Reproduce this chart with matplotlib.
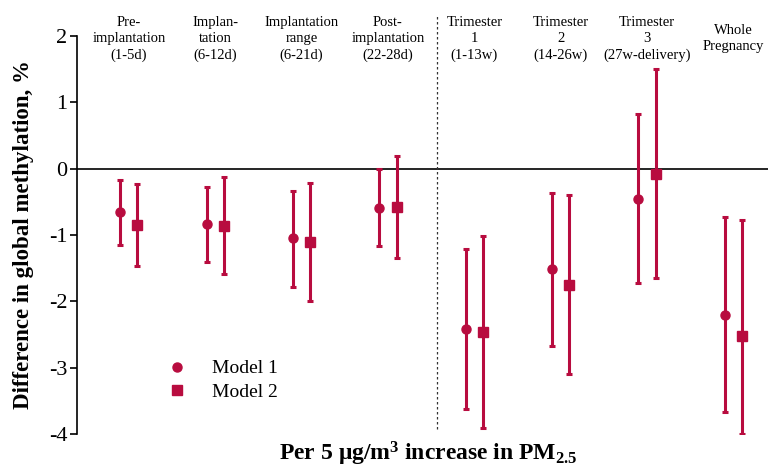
import numpy as np
import matplotlib.pyplot as plt
from matplotlib.lines import Line2D

# 数据
groups = ['Pre-\nimplantation\n(1-5d)', 'Implan-\ntation\n(6-12d)', 'Implantation\nrange\n(6-21d)',
          'Post-\nimplantation\n(22-28d)', 'Trimester\n1\n(1-13w)', 'Trimester\n2\n(14-26w)',
          'Trimester\n3\n(27w-delivery)', 'Whole\nPregnancy']
m1_est = [-0.66, -0.84, -1.05, -0.59, -2.42, -1.52, -0.45, -2.20]
m1_low = [-1.15, -1.41, -1.79, -1.17, -3.63, -2.67, -1.72, -3.67]
m1_high = [-0.17, -0.27, -0.34, 0.00, -1.21, -0.37, 0.82, -0.73]
m2_est = [-0.85, -0.86, -1.10, -0.58, -2.47, -1.75, -0.08, -2.53]
m2_low = [-1.46, -1.59, -2.00, -1.35, -3.91, -3.10, -1.65, -4.00]
m2_high = [-0.23, -0.12, -0.21, 0.19, -1.02, -0.40, 1.50, -0.77]
yticks = [2, 1, 0, -1, -2, -3, -4]

color = '#B80C3F'
plt.rcParams['font.family'] = ['Liberation Serif', 'DejaVu Serif']
plt.rcParams['mathtext.fontset'] = 'custom'
plt.rcParams['mathtext.rm'] = 'Liberation Serif:bold'
plt.rcParams['mathtext.bf'] = 'Liberation Serif:bold'
plt.rcParams['mathtext.it'] = 'Liberation Serif:bold'

fig = plt.figure(figsize=(7.68, 4.67), dpi=100)
ax = fig.add_axes([0.1003, 0.0707, 0.8997, 0.8522])

x = np.arange(1, len(groups) + 1)

def draw(xs, est, low, high, marker):
    est = np.array(est)
    err = [est - np.array(low), np.array(high) - est]
    ax.errorbar(xs, est, yerr=err, fmt=marker, color=color, ms=6.5,
                elinewidth=2.2, capsize=2.5, capthick=2.2, zorder=3)

draw(x - 0.1, m1_est, m1_low, m1_high, 'o')
draw(x + 0.1, m2_est, m2_low, m2_high, 's')

ax.axhline(0, color='black', lw=1.2, zorder=1)
ax.axvline(4.57, ymin=0.012, ymax=1.053, color='#333333', lw=0.9,
           ls=(0, (2, 2)), clip_on=False)

ax.set_xlim(0.4, 8.4)
ax.set_ylim(-4, 2)
ax.set_yticks(yticks)
ax.set_yticklabels([str(t) for t in yticks], fontsize=16)
ax.set_xticks([])
for s in ['top', 'right', 'bottom']:
    ax.spines[s].set_visible(False)
ax.spines['left'].set_linewidth(1.2)
ax.tick_params(axis='y', length=5, width=1.2, pad=2)

# 顶部的分组标签
for xi, g in zip(x, groups):
    ax.text(xi, 1.955, g, ha='center', va='center', fontsize=10.5,
            linespacing=1.3, clip_on=False)

fig.text(24 / 768, 1 - 235 / 467, 'Difference in global methylation, %', fontsize=16.5,
         fontweight='bold', rotation=90, ha='center', va='center')

fig.text(428 / 768, 1 - 454 / 467, r'Per 5 $\mathrm{\mu}$g/m$^{3}$ increase in PM$_{2.5}$',
         ha='center', va='center', fontsize=17, fontweight='bold')

handles = [Line2D([], [], ls='none', marker='o', color=color, ms=6.5),
           Line2D([], [], ls='none', marker='s', color=color, ms=6.5)]
ax.legend(handles, ['Model 1', 'Model 2'], loc='center left',
          bbox_to_anchor=(0.105, 0.135), frameon=False, fontsize=14,
          handletextpad=1.3, handlelength=1.0, labelspacing=0.3)

fig.savefig('out.png', dpi=100)
